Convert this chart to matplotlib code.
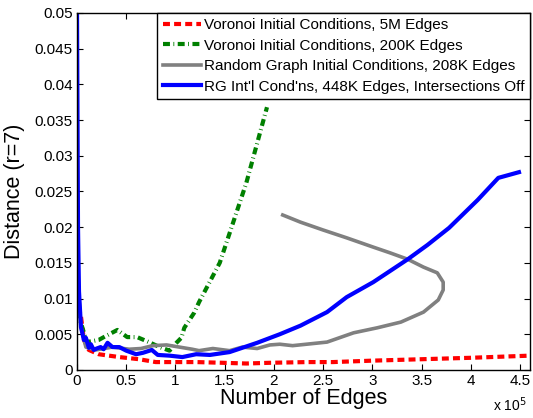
import matplotlib
matplotlib.use("Agg")
import matplotlib.pyplot as plt

plt.rcParams['font.family'] = ['Liberation Sans', 'DejaVu Sans']
plt.rcParams['lines.scale_dashes'] = False

# x values in units of 1e5 edges
red_x = [0.0, 0.02, 0.04, 0.07, 0.12, 0.22, 0.43, 0.63, 0.8, 1.04, 1.21, 1.48, 1.72, 1.96, 2.34, 2.6, 3.0, 3.5, 4.0, 4.6]
red_y = [0.0088, 0.0086, 0.0075, 0.0042, 0.0028, 0.0022, 0.0018, 0.0015, 0.0011, 0.0011, 0.0011, 0.0010, 0.0009, 0.0010, 0.0011, 0.0011, 0.0013, 0.0015, 0.0017, 0.0020]

green_x = [0.0, 0.03, 0.1, 0.22, 0.3, 0.41, 0.51, 0.61, 0.73, 0.84, 0.94, 1.01, 1.06, 1.09, 1.19, 1.24, 1.45, 1.72, 1.93]
green_y = [0.0082, 0.0070, 0.0039, 0.0042, 0.0048, 0.0056, 0.0046, 0.0046, 0.0039, 0.0032, 0.0027, 0.0038, 0.0045, 0.0059, 0.0080, 0.0095, 0.0150, 0.0262, 0.0368]

gray_x = [0.0, 0.02, 0.04, 0.09, 0.19, 0.36, 0.53, 0.65, 0.77, 0.91, 1.04, 1.17, 1.24, 1.38, 1.55, 1.68, 1.83, 1.96, 2.06, 2.19, 2.54, 2.81, 3.05, 3.29, 3.52, 3.67, 3.72, 3.72, 3.66, 3.52, 3.36, 3.18, 3.01, 2.74, 2.5, 2.27, 2.09]
gray_y = [0.0180, 0.0100, 0.0060, 0.0032, 0.0028, 0.0032, 0.0029, 0.0030, 0.0034, 0.0035, 0.0032, 0.0029, 0.0027, 0.0030, 0.0027, 0.0032, 0.0030, 0.0035, 0.0036, 0.0034, 0.0039, 0.0052, 0.0059, 0.0067, 0.0081, 0.0098, 0.0112, 0.0123, 0.0136, 0.0144, 0.0155, 0.0164, 0.0172, 0.0185, 0.0196, 0.0207, 0.0217]

blue_x = [0.0, 0.01, 0.02, 0.04, 0.06, 0.07, 0.09, 0.12, 0.14, 0.17, 0.2, 0.24, 0.27, 0.31, 0.36, 0.43, 0.5, 0.6, 0.67, 0.76, 0.82, 0.94, 1.07, 1.21, 1.35, 1.55, 1.83, 2.06, 2.27, 2.54, 2.74, 3.01, 3.36, 3.56, 3.78, 4.07, 4.28, 4.49]
blue_y = [0.0500, 0.0200, 0.0110, 0.0060, 0.0048, 0.0042, 0.0045, 0.0031, 0.0036, 0.0028, 0.0030, 0.0032, 0.0029, 0.0038, 0.0032, 0.0032, 0.0027, 0.0022, 0.0024, 0.0028, 0.0021, 0.0020, 0.0018, 0.0022, 0.0021, 0.0025, 0.0038, 0.0050, 0.0062, 0.0081, 0.0102, 0.0123, 0.0155, 0.0175, 0.0199, 0.0238, 0.0269, 0.0277]

labels = ["Voronoi Initial Conditions, 5M Edges",
          "Voronoi Initial Conditions, 200K Edges",
          "Random Graph Initial Conditions, 208K Edges",
          "RG Int'l Cond'ns, 448K Edges, Intersections Off"]

xticks = [0, 0.5, 1, 1.5, 2, 2.5, 3, 3.5, 4, 4.5]
yticks = [0, 0.005, 0.01, 0.015, 0.02, 0.025, 0.03, 0.035, 0.04, 0.045, 0.05]

fig = plt.figure(figsize=(5.33, 4.18), dpi=100)
ax = fig.add_axes([0.1445, 0.115, 0.8495, 0.854])

ax.plot(red_x, red_y, color='#ff0000', lw=3, linestyle=(0, (5.0, 3.0)), label=labels[0])
ax.plot(green_x, green_y, color='#008000', lw=3, linestyle=(0, (5.0, 2.5, 0.6, 2.5)), label=labels[1])
ax.plot(gray_x, gray_y, color='#808080', lw=2.6, label=labels[2])
ax.plot(blue_x, blue_y, color='#0000ff', lw=3, label=labels[3])

ax.set_xlim(0, 4.6)
ax.set_ylim(0, 0.05)
ax.set_xticks(xticks)
ax.set_xticklabels([('%g' % t) for t in xticks])
ax.set_yticks(yticks)
ax.set_yticklabels([('%g' % t) for t in yticks])
ax.tick_params(direction='in', top=True, right=True, labelsize=11, length=4, width=0.8, pad=3)
for s in ax.spines.values():
    s.set_linewidth(1.0)

ax.set_xlabel('Number of Edges', fontsize=15.5, labelpad=0)
ax.set_ylabel('Distance (r=7)', fontsize=15.5, labelpad=7)
fig.text(527 / 533, 1 - 411 / 418, r'x 10$^5$', ha='right', va='baseline', fontsize=10)

leg = ax.legend(loc='upper right', fontsize=11, handlelength=2.5, handletextpad=0.2,
                borderpad=0.35, labelspacing=0.42, borderaxespad=0.0, fancybox=False,
                framealpha=1, edgecolor='black')
leg.get_frame().set_linewidth(1.0)

fig.savefig('out.png', dpi=100)
